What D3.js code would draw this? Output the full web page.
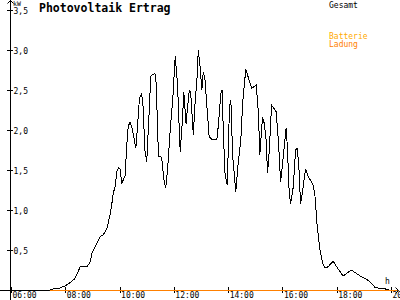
<!doctype html>
<html>
<head>
<style>
  body { margin: 0; background: #fff; }
  svg { display: block; background: #fff; }
  .tick text { font-family: "DejaVu Sans Mono", monospace; font-size: 8px; fill: #000; }
  .axis line, .axis path { stroke: #000; shape-rendering: crispEdges; }
</style>
<script src="https://d3js.org/d3.v7.min.js"></script>
</head>
<body>
<svg width="400" height="300"></svg>
<script>
// PV Gesamt (kW) over the day
var times = ["07:26","07:37","07:48","07:59","08:10","08:21","08:33","08:37","08:48","08:55",
  "08:59","09:06","09:17","09:24","09:32","09:39","09:43","09:46","09:50","09:54",
  "09:58","10:01","10:05","10:08","10:12","10:16","10:19","10:23","10:28","10:36",
  "10:39","10:44","10:49","10:52","10:56","11:00","11:06","11:09","11:18","11:21",
  "11:26","11:33","11:38","11:42","11:46","11:52","11:58","12:03","12:08","12:12",
  "12:14","12:19","12:22","12:27","12:30","12:34","12:37","12:43","12:47","12:51",
  "12:54","12:58","13:02","13:05","13:09","13:12","13:18","13:24","13:35","13:38",
  "13:44","13:47","13:49","13:53","13:58","14:03","14:06","14:10","14:17","14:22",
  "14:28","14:32","14:39","14:52","15:02","15:07","15:10","15:16","15:20","15:24",
  "15:27","15:31","15:36","15:46","15:51","15:56","16:02","16:08","16:11","16:15",
  "16:18","16:24","16:29","16:33","16:37","16:40","16:44","16:51","16:57","17:08",
  "17:12","17:17","17:23","17:29","17:34","17:41","17:52","18:00","18:14","18:32",
  "18:40","18:56","19:07","19:14","19:25","19:51","19:56"];
var gesamt = [0,0.02,0.025,0.05,0.09,0.14,0.29,0.29,0.29,0.35,
  0.46,0.54,0.67,0.69,0.77,0.94,1.08,1.21,1.29,1.48,
  1.53,1.51,1.33,1.375,1.42,1.81,2.04,2.10,2.02,1.77,
  2.0,2.40,2.45,2.29,1.75,1.60,2.29,2.675,2.71,2.58,
  1.67,1.66,1.375,1.27,1.5,2.0,2.42,2.92,2.58,2.0,
  1.73,2.125,2.47,2.08,2.27,2.49,2.48,1.94,2.35,2.625,
  3.0,2.79,2.5,2.73,2.625,2.375,1.92,1.88,1.88,2.04,
  2.46,2.5,2.04,1.46,1.31,2.29,2.37,1.67,1.23,1.58,
  1.875,2.33,2.76,2.52,2.56,2.21,1.69,2.16,2.08,1.875,
  1.46,1.75,2.31,2.23,1.875,1.35,1.67,2.02,1.79,1.21,
  1.08,1.29,1.75,1.77,1.48,1.08,1.21,1.51,1.42,1.31,
  1.17,0.79,0.5,0.33,0.275,0.29,0.36,0.29,0.175,0.25,
  0.22,0.16,0.13,0.10,0.03,0.01,0];

// Batterie Ladung (kW)
var batTimes = ["07:26","20:14"];
var batLadung = [0, 0];

var xTicks = [6, 8, 10, 12, 14, 16, 18, 20];
var yTicks = [0.5, 1.0, 1.5, 2.0, 2.5, 3.0, 3.5];

function hours(s) { var p = s.split(":"); return +p[0] + p[1] / 60; }

var svg = d3.select("svg");
var x = d3.scaleLinear().domain([6, 20]).range([11, 391]);
var y = d3.scaleLinear().domain([0, 3.5]).range([290, 10]);

// axis lines with arrows
svg.append("line").attr("x1", 0).attr("x2", 398).attr("y1", y(0) + 0.5).attr("y2", y(0) + 0.5)
   .attr("stroke", "#000").attr("shape-rendering", "crispEdges");
svg.append("line").attr("x1", 10.5).attr("x2", 10.5).attr("y1", 0).attr("y2", 300)
   .attr("stroke", "#000").attr("shape-rendering", "crispEdges");
svg.append("path").attr("d", "M7.5,3.5L10.5,0.5L13.5,3.5").attr("fill", "none").attr("stroke", "#000");
svg.append("path").attr("d", "M395.5,287.5L398.5,290.5L395.5,293.5").attr("fill", "none").attr("stroke", "#000");

var gx = svg.append("g").attr("class", "axis").attr("transform", "translate(0," + y(0) + ")")
  .call(d3.axisBottom(x).tickValues(xTicks).tickSize(0)
    .tickFormat(function(d) { return (d < 10 ? "0" : "") + d + ":00"; }));
gx.select(".domain").remove();
gx.selectAll(".tick line").attr("y1", -3).attr("y2", 3);
gx.selectAll(".tick text").attr("text-anchor", "start").attr("x", 1).attr("y", 8).attr("dy", 0);

var gy = svg.append("g").attr("class", "axis").attr("transform", "translate(10,0)")
  .call(d3.axisLeft(y).tickValues(yTicks).tickSize(0)
    .tickFormat(function(d) { return d3.format(".1f")(d).replace(".", ","); }));
gy.select(".domain").remove();
gy.selectAll(".tick line").attr("x1", -3).attr("x2", 3);
gy.selectAll(".tick text").attr("text-anchor", "start").attr("x", 3.5).attr("dy", "0.38em");

svg.append("text").attr("x", 13).attr("y", 5.5).text("kW")
   .attr("font-family", "DejaVu Sans Mono").attr("font-size", "6.5px");
svg.append("text").attr("x", 385).attr("y", 283.5).text("h")
   .attr("font-family", "DejaVu Sans Mono").attr("font-size", "8px");

// title
svg.append("text").attr("x", 39).attr("y", 11.5).text("Photovoltaik Ertrag")
   .attr("font-family", "DejaVu Sans Mono").attr("font-weight", "bold").attr("font-size", "11.5px");

// legend
var lg = svg.append("g").attr("font-family", "DejaVu Sans Mono").attr("font-size", "8px");
lg.append("text").attr("x", 329).attr("y", 7.5).attr("fill", "#000").text("Gesamt");
lg.append("text").attr("x", 329).attr("y", 38.5).attr("fill", "#ffaa00").text("Batterie");
lg.append("text").attr("x", 329).attr("y", 46.5).attr("fill", "#ff8000").text("Ladung");

var line = d3.line().x(function(d) { return x(d[0]); }).y(function(d) { return y(d[1]); });

svg.append("path")
   .datum(times.map(function(t, i) { return [hours(t), gesamt[i]]; }))
   .attr("fill", "none").attr("stroke", "#000").attr("stroke-width", 1)
   .attr("shape-rendering", "crispEdges")
   .attr("d", line);

svg.append("path")
   .datum(batTimes.map(function(t, i) { return [hours(t), batLadung[i]]; }))
   .attr("fill", "none").attr("stroke", "#ff8000").attr("stroke-width", 1.2)
   .attr("transform", "translate(0,0.5)")
   .attr("d", line);
</script>
</body>
</html>
